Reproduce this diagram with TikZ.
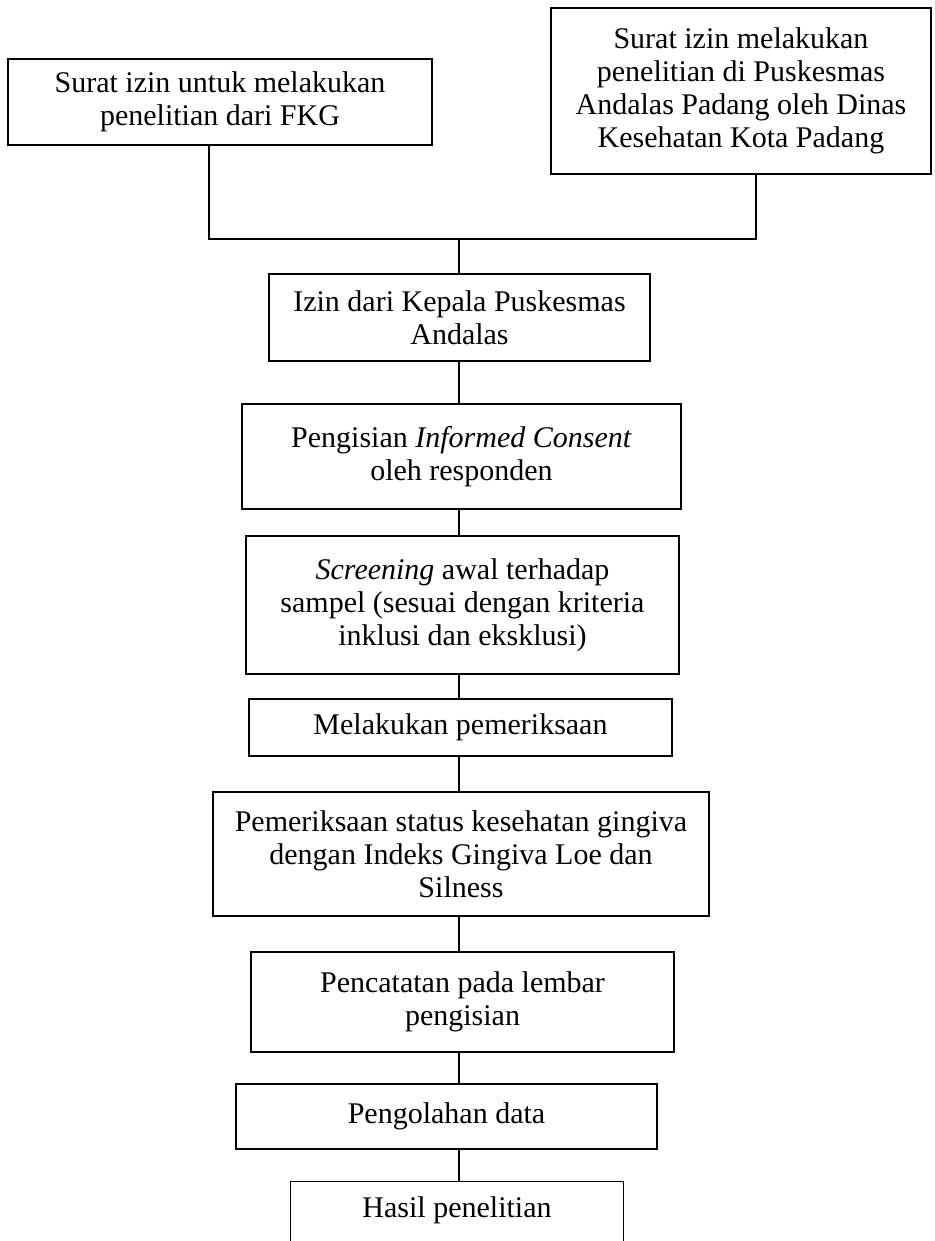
\documentclass[tikz,border=0pt]{standalone}
\usepackage{fontspec}
\setmainfont{Liberation Serif}
\usetikzlibrary{calc}
\tikzset{
  box/.style={draw, line width=1.4pt, inner sep=0pt, align=center,
    font=\fontsize{30}{33}\selectfont},
  conn/.style={line width=2pt}
}
\begin{document}
\begin{tikzpicture}[x=1pt, y=-1pt]
\useasboundingbox (0,0) rectangle (934,1241);
\fill[white] (0,0) rectangle (934,1241);

\node[box, minimum width=424pt, minimum height=86pt] (b1) at (220,102)
  {Surat izin untuk melakukan\\penelitian dari FKG};
\node[box, minimum width=380pt, minimum height=166pt] (b2) at (741,91)
  {Surat izin melakukan\\penelitian di Puskesmas\\Andalas Padang oleh Dinas\\Kesehatan Kota Padang};
\node[box, minimum width=381pt, minimum height=87pt] (b3) at (459.5,317.5)
  {Izin dari Kepala Puskesmas\\Andalas};
\node[box, minimum width=439pt, minimum height=105pt] (b4) at (461.5,456.5)
  {Pengisian \textit{Informed Consent}\\oleh responden};
\node[box, minimum width=433pt, minimum height=138pt] (b5) at (462.5,605)
  {\textit{Screening} awal terhadap\\sampel (sesuai dengan kriteria\\inklusi dan eksklusi)};
\node[box, minimum width=423pt, minimum height=57pt] (b6) at (460.5,727.5)
  {Melakukan pemeriksaan};
\node[box, minimum width=496pt, minimum height=124pt] (b7) at (461,854)
  {Pemeriksaan status kesehatan gingiva\\dengan Indeks Gingiva Loe dan\\Silness};
\node[box, minimum width=423pt, minimum height=100pt] (b8) at (462.5,1002)
  {Pencatatan pada lembar\\pengisian};
\node[box, minimum width=421pt, minimum height=65pt] (b9) at (446.5,1116.5)
  {Pengolahan data};
\node[box, draw=none, minimum width=332pt, minimum height=56pt] (b10) at (457,1210)
  {Hasil penelitian};
\draw[line width=1.4pt] (b10.north west) rectangle ($(b10.south east)+(0,30)$);

\coordinate (jl) at (209,239);
\coordinate (jr) at (756,239);
\coordinate (jc) at (459,239);

\draw[conn] (b1.south -| jl) -- (jl) -- (jr) -- (b2.south -| jr);
\draw[conn] (jc) -- (b3.north -| jc);
\draw[conn] (b3.south -| jc) -- (b4.north -| jc);
\draw[conn] (b4.south -| jc) -- (b5.north -| jc);
\draw[conn] (b5.south -| jc) -- (b6.north -| jc);
\draw[conn] (b6.south -| jc) -- (b7.north -| jc);
\draw[conn] (b7.south -| jc) -- (b8.north -| jc);
\draw[conn] (b8.south -| jc) -- (b9.north -| jc);
\draw[conn] (b9.south -| jc) -- (b10.north -| jc);
\end{tikzpicture}
\end{document}
